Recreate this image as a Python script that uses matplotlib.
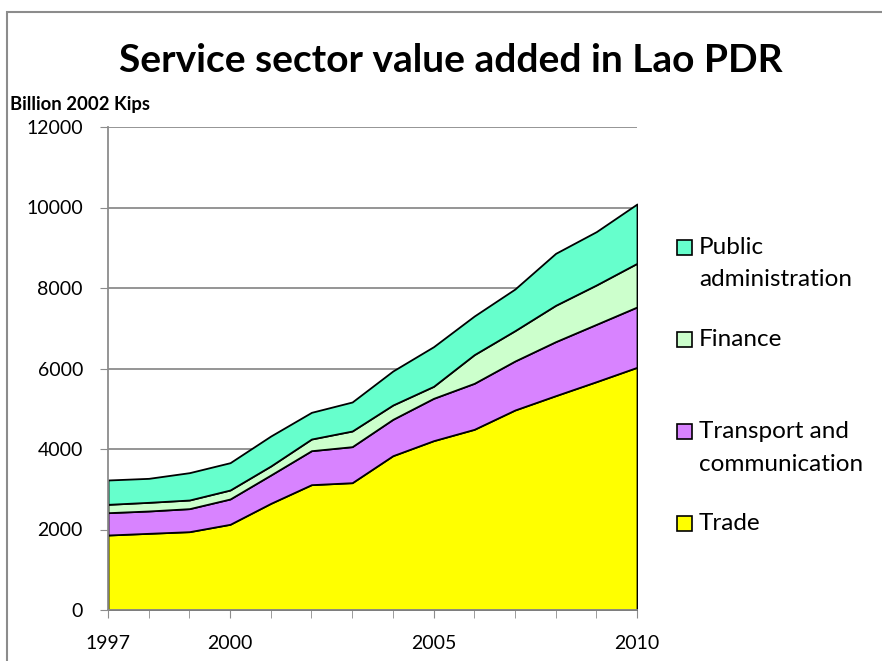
import matplotlib
matplotlib.use("Agg")
import matplotlib.pyplot as plt
from matplotlib.patches import Rectangle
import numpy as np

plt.rcParams['font.family'] = ['Lato', 'DejaVu Sans']

years = list(range(1997, 2011))
trade = [1863, 1905, 1946, 2129, 2650, 3114, 3163, 3834, 4207, 4489, 4969, 5325, 5673, 6029]
transport = [555, 555, 572, 629, 704, 844, 895, 903, 1052, 1143, 1217, 1342, 1424, 1499]
finance = [207, 215, 215, 223, 224, 290, 389, 356, 298, 712, 754, 903, 978, 1085]
public_admin = [605, 596, 679, 679, 745, 663, 721, 845, 985, 960, 1035, 1291, 1325, 1474]

series_names = ["Trade", "Transport and\ncommunication", "Finance", "Public\nadministration"]
series_colors = ["#FFFF00", "#D883FF", "#CCFFCC", "#66FFCC"]
x_tick_labels = [1997, 2000, 2005, 2010]
y_ticks = [0, 2000, 4000, 6000, 8000, 10000, 12000]

W, H = 882, 661
fig = plt.figure(figsize=(W / 100, H / 100), dpi=100)
ax = fig.add_axes([108 / W, 1 - 610 / H, (637 - 108) / W, (610 - 127) / H])

# outer chart frame (runs off the right and bottom edges)
fig.patches.append(Rectangle((7 / W, -0.1), 1.2, 1.1 - 12 / H,
                             transform=fig.transFigure, fill=False,
                             edgecolor="#8c8c8c", linewidth=1.5, zorder=0))

stack = np.vstack([trade, transport, finance, public_admin])
ax.stackplot(years, stack, colors=series_colors, edgecolor="black", linewidth=1.3)

ax.set_xlim(1997, 2010)
ax.set_ylim(0, 12000)
ax.set_yticks(y_ticks)
ax.set_yticklabels([str(v) for v in y_ticks], fontsize=14)
ax.set_xticks(years, minor=True)
ax.set_xticks(x_tick_labels)
ax.set_xticklabels([str(v) for v in x_tick_labels], fontsize=14)
ax.tick_params(axis="y", length=6, color="#8c8c8c", pad=12)
ax.tick_params(axis="x", which="both", length=6, color="#8c8c8c", pad=12)
ax.grid(axis="y", color="#8c8c8c", linewidth=1.3)
ax.set_axisbelow(True)
for side in ("top", "right"):
    ax.spines[side].set_visible(False)
for side in ("left", "bottom"):
    ax.spines[side].set_color("#8c8c8c")
    ax.spines[side].set_linewidth(1.3)

fig.text(451 / W, 1 - 72 / H, "Service sector value added in Lao PDR",
         ha="center", va="baseline", fontsize=28, fontweight="bold")
fig.text(10 / W, 1 - 110 / H, "Billion 2002 Kips", ha="left", va="baseline",
         fontsize=13.3, fontweight="bold")

# legend, top entry first
legend_y = [247, 339, 431.5, 523.5]
line_gap = 33
for name, color, ly in zip(series_names[::-1], series_colors[::-1], legend_y):
    fig.patches.append(Rectangle((677 / W, 1 - (ly + 7.5) / H), 15 / W, 15 / H,
                                 transform=fig.transFigure, facecolor=color,
                                 edgecolor="black", linewidth=1.2))
    for i, line in enumerate(name.split("\n")):
        fig.text(699 / W, 1 - (ly + i * line_gap) / H, line, ha="left",
                 va="center", fontsize=17.5)

fig.savefig("out.png", dpi=100)
